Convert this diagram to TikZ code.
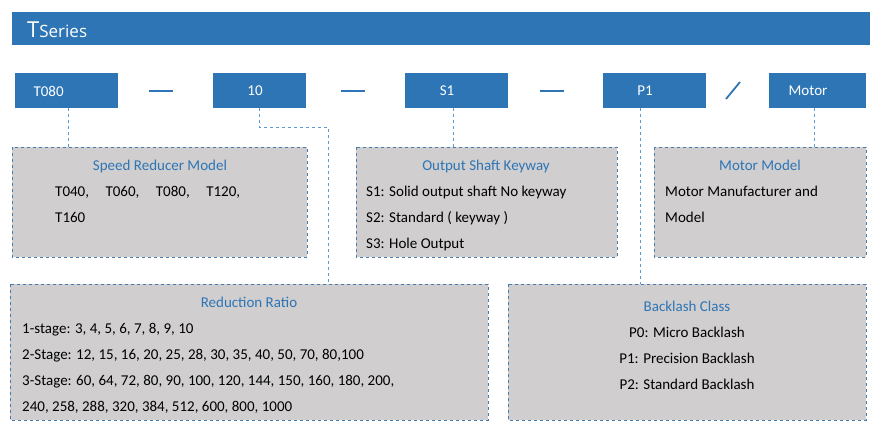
\documentclass[tikz,border=0pt]{standalone}
\usepackage{fontspec}
\setmainfont{Carlito}
\newfontfamily\headfont{Open Sans}
\definecolor{tblue}{HTML}{2E75B6}
\definecolor{tgray}{HTML}{D0CECE}
\definecolor{tdash}{HTML}{5B9BD5}
\begin{document}
\begin{tikzpicture}[x=1pt,y=-1pt,
  codebox/.style={fill=tblue,draw=none,text=white,font=\fontsize{15}{18}\selectfont},
  infobox/.style={fill=tgray,draw=tdash!80!black,dashed,line width=0.6pt},
  conn/.style={draw=tdash,dashed,line width=0.8pt},
  ttl/.style={text=tblue,font=\fontsize{15}{18}\selectfont,anchor=base},
  txt/.style={font=\fontsize{15}{18}\selectfont,anchor=base west,inner sep=0pt},
  txc/.style={font=\fontsize{15}{18}\selectfont,anchor=base,inner sep=0pt},
  sep/.style={draw=tblue,line width=2.5pt}]
\useasboundingbox (0,0) rectangle (885,435);
\fill[tblue] (12,12) rectangle (870,45);
\node[anchor=base west,text=white,inner sep=0pt] (hdr) at (27,38) {\headfont\fontsize{22}{24}\selectfont T\fontsize{17}{20}\selectfont Series};
% code boxes
\fill[tblue] (15,73) rectangle (118,108); \node[codebox,anchor=west] (c1) at (30,91) {T080};
\fill[tblue] (213,73) rectangle (306,108); \node[codebox] (c2) at (255,91) {10};
\fill[tblue] (405,73) rectangle (508,108); \node[codebox] (c3) at (447,91) {S1};
\fill[tblue] (603,73) rectangle (706,108); \node[codebox] (c4) at (645,91) {P1};
\fill[tblue] (769,73) rectangle (866,108); \node[codebox] (c5) at (808,91) {Motor};
\draw[sep] (149,91) -- (173,91);
\draw[sep] (341,91) -- (365,91);
\draw[sep] (540,91) -- (564,91);
\draw[tblue,line width=1.8pt] (726,99) -- (740,82);
% info boxes
\draw[infobox] (12,147) rectangle (307,257);
\draw[infobox] (356,147) rectangle (617,257);
\draw[infobox] (654,147) rectangle (866,257);
\draw[infobox] (10,284) rectangle (488,420);
\draw[infobox] (508,284) rectangle (866,420);
% connectors
\draw[conn] (68,108) -- (68,147);
\draw[conn] (259,108) -- (259,127) -- (328,127) -- (328,284);
\draw[conn] (453,108) -- (453,147);
\draw[conn] (640,108) -- (640,284);
\draw[conn] (814,108) -- (814,147);
% texts
\node[ttl] (t1) at (160,171) {Speed Reducer Model};
\node[txt] (a1) at (55,197) {T040,\hspace{1.1em}T060,\hspace{1.1em}T080,\hspace{1.1em}T120,};
\node[txt] (a2) at (55,223) {T160};
\node[ttl] (t2) at (486,171) {Output Shaft Keyway};
\node[txt] (b1) at (366,197) {S1: Solid output shaft No keyway};
\node[txt] (b2) at (366,223) {S2: Standard ( keyway )};
\node[txt] (b3) at (366,249) {S3: Hole Output};
\node[ttl] (t3) at (760,171) {Motor Model};
\node[txt] (m1) at (665,197) {Motor Manufacturer and};
\node[txt] (m2) at (665,223) {Model};
\node[ttl] (t4) at (249,307) {Reduction Ratio};
\node[txt] (r1) at (22,333) {1-stage: 3, 4, 5, 6, 7, 8, 9, 10};
\node[txt] (r2) at (22,359) {2-Stage: 12, 15, 16, 20, 25, 28, 30, 35, 40, 50, 70, 80,100};
\node[txt] (r3) at (22,385) {3-Stage: 60, 64, 72, 80, 90, 100, 120, 144, 150, 160, 180, 200,};
\node[txt] (r4) at (22,411) {240, 258, 288, 320, 384, 512, 600, 800, 1000};
\node[ttl] (t5) at (687,312) {Backlash Class};
\node[txc] (p0) at (687,337) {P0: Micro Backlash};
\node[txc] (p1) at (687,363) {P1: Precision Backlash};
\node[txc] (p2) at (687,389) {P2: Standard Backlash};
\end{tikzpicture}
\end{document}
